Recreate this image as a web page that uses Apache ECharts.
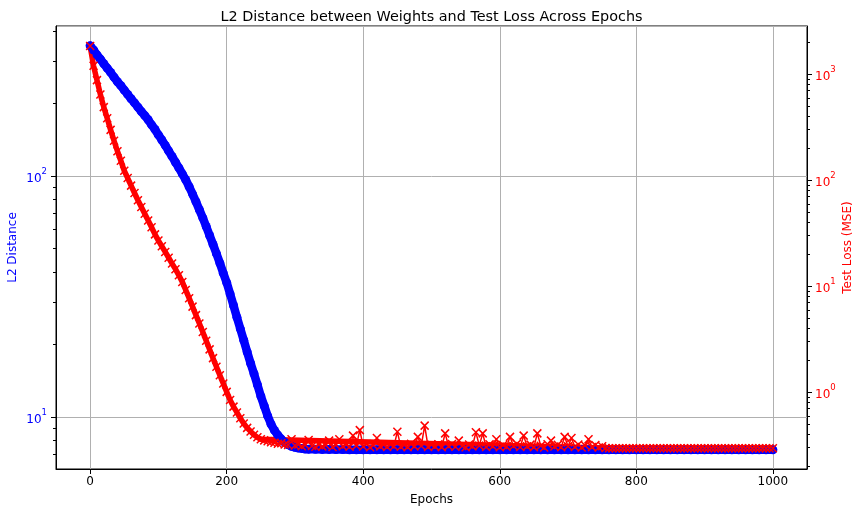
<!DOCTYPE html>
<html>
<head>
<meta charset="utf-8">
<title>L2 Distance vs Test Loss</title>
<script src="https://cdn.jsdelivr.net/npm/echarts@6/dist/echarts.min.js"></script>
<style>
  html, body { margin: 0; padding: 0; background: #fff; }
  #main { width: 863px; height: 515px; }
</style>
</head>
<body>
<div id="main"></div>
<script>
// L2 distance, read every 5 epochs for 0..320, then every 10 epochs for 330..1000
const l2Early = [
  347, 333, 318, 305, 292, 280, 269, 257, 246, 237,
  227, 218, 209, 201, 193, 185, 178, 171, 163, 156,
  148, 141, 134, 127, 120.5, 114, 108, 102, 96.4, 90.2,
  84.1, 78.2, 72.4, 67.0, 61.7, 56.6, 52.0, 47.6, 43.5, 39.5,
  36.1, 32.4, 29.0, 25.9, 23.2, 20.8, 18.6, 16.7, 15.1, 13.6,
  12.2, 11.1, 10.1, 9.33, 8.79, 8.39, 8.09, 7.85, 7.67, 7.55,
  7.48, 7.43, 7.40, 7.36, 7.35
];
const l2Late = [
  7.34, 7.33, 7.33, 7.32, 7.32, 7.31, 7.31, 7.31, 7.30, 7.30,
  7.30, 7.30, 7.30, 7.30, 7.30, 7.30, 7.30, 7.30, 7.30, 7.30,
  7.30, 7.30, 7.30, 7.30, 7.30, 7.30, 7.30, 7.30, 7.30, 7.30,
  7.30, 7.30, 7.30, 7.30, 7.30, 7.30, 7.30, 7.30, 7.30, 7.30,
  7.30, 7.30, 7.30, 7.30, 7.30, 7.30, 7.30, 7.30, 7.30, 7.30,
  7.30, 7.30, 7.30, 7.30, 7.30, 7.30, 7.30, 7.30, 7.30, 7.30,
  7.30, 7.30, 7.30, 7.30, 7.30, 7.30, 7.30, 7.30
];

// test loss, every 5 epochs: 0..250, noisy 255..750, then 755..1000
const lossEarly = [
  1850, 1202, 881, 646, 490, 385, 299, 236, 188, 153,
  123, 105, 89.1, 75.9, 64.9, 56.0, 48.3, 41.7, 36.0, 30.9,
  27.0, 23.9, 21.1, 18.6, 16.4, 14.5, 12.7, 11.0, 9.23, 7.73,
  6.43, 5.35, 4.45, 3.70, 3.07, 2.54, 2.10, 1.74, 1.45, 1.21,
  1.01, 0.845, 0.733, 0.646, 0.569, 0.507, 0.462, 0.427, 0.398, 0.376,
  0.36
];
const lossNoisy = [
  0.352, 0.345, 0.338, 0.334, 0.327, 0.331, 0.322, 0.318, 0.36, 0.315,
  0.322, 0.31, 0.318, 0.355, 0.312, 0.306, 0.32, 0.309, 0.316, 0.35,
  0.305, 0.318, 0.36, 0.31, 0.322, 0.306, 0.39, 0.314, 0.44, 0.308,
  0.325, 0.303, 0.316, 0.37, 0.309, 0.32, 0.305, 0.322, 0.31, 0.425,
  0.306, 0.318, 0.304, 0.326, 0.309, 0.38, 0.312, 0.485, 0.305, 0.32,
  0.308, 0.323, 0.304, 0.41, 0.31, 0.325, 0.306, 0.35, 0.312, 0.303,
  0.322, 0.309, 0.42, 0.314, 0.41, 0.305, 0.324, 0.31, 0.36, 0.303,
  0.318, 0.307, 0.38, 0.311, 0.326, 0.305, 0.39, 0.309, 0.321, 0.304,
  0.41, 0.313, 0.302, 0.324, 0.35, 0.308, 0.319, 0.303, 0.38, 0.31,
  0.37, 0.305, 0.322, 0.301, 0.315, 0.36, 0.304, 0.318, 0.302, 0.31
];
const lossLate = [
  0.298, 0.297, 0.297, 0.297, 0.297, 0.297, 0.297, 0.297, 0.297, 0.297,
  0.297, 0.297, 0.297, 0.297, 0.297, 0.297, 0.297, 0.297, 0.297, 0.297,
  0.297, 0.297, 0.297, 0.297, 0.297, 0.297, 0.297, 0.297, 0.297, 0.297,
  0.297, 0.297, 0.297, 0.297, 0.297, 0.297, 0.297, 0.297, 0.297, 0.297,
  0.297, 0.297, 0.297, 0.297, 0.297, 0.297, 0.297, 0.297, 0.297, 0.297
];

const xTicks = [0, 200, 400, 600, 800, 1000];
const l2Minor = [7, 8, 9, 20, 30, 40, 50, 60, 70, 80, 90, 200, 300, 400];
const lossMinor = [
  0.2, 0.3, 0.4, 0.5, 0.6, 0.7, 0.8, 0.9,
  2, 3, 4, 5, 6, 7, 8, 9,
  20, 30, 40, 50, 60, 70, 80, 90,
  200, 300, 400, 500, 600, 700, 800, 900, 2000
];

// pair a segment with its epochs (start + i * step)
function seg(values, start, step) {
  return values.map((v, i) => [start + i * step, v]);
}
const l2Data = seg(l2Early, 0, 5).concat(seg(l2Late, 330, 10));
const lossData = seg(lossEarly, 0, 5)
  .concat(seg(lossNoisy, 255, 5))
  .concat(seg(lossLate, 755, 5));
// smooth stretches only: the thick band that the dense x markers make
const lossBand = seg(lossEarly, 0, 5).concat(seg(lossLate, 755, 5));

const FONT = 'DejaVu Sans';

function powLabel(v) {
  const e = Math.round(Math.log10(v));
  if (Math.abs(Math.log10(v) - e) > 1e-6) return '';
  return '{b|10}{s|' + e + '}';
}
function powRich(color) {
  return {
    b: { fontSize: 12, color: color, fontFamily: FONT, lineHeight: 18, verticalAlign: 'bottom' },
    s: { fontSize: 8.5, color: color, fontFamily: FONT, lineHeight: 18, verticalAlign: 'top' }
  };
}

const minorAxis = (lo, hi, pos, ticks) => ({
  type: 'log', min: lo, max: hi, position: pos, offset: 0,
  axisLine: { show: false, onZero: false },
  axisTick: { show: true, customValues: ticks, length: 3, lineStyle: { color: '#000' } },
  axisLabel: { show: false },
  splitLine: { show: false }
});

const chart = echarts.init(document.getElementById('main'), null, { renderer: 'canvas' });

chart.setOption({
  animation: false,
  title: {
    text: 'L2 Distance between Weights and Test Loss Across Epochs',
    left: 'center',
    top: 5,
    textStyle: { fontFamily: FONT, fontSize: 14.4, fontWeight: 'normal', color: '#000' }
  },
  grid: {
    left: 56, right: 56, top: 26, bottom: 46,
    containLabel: false,
    outerBoundsMode: 'none',
    show: true, borderColor: '#000', borderWidth: 1, backgroundColor: '#fff'
  },
  xAxis: {
    type: 'value',
    min: -50,
    max: 1050,
    name: 'Epochs',
    nameLocation: 'middle',
    nameGap: 25,
    nameMoveOverlap: false,
    nameTextStyle: { fontFamily: FONT, fontSize: 12, color: '#000' },
    axisLine: { onZero: false, lineStyle: { color: '#000', width: 1 } },
    axisTick: { customValues: xTicks, length: 5, lineStyle: { color: '#000' } },
    axisLabel: {
      customValues: xTicks,
      margin: 7,
      formatter: (v) => String(v),
      fontFamily: FONT, fontSize: 12, color: '#000'
    },
    splitLine: { show: true, lineStyle: { color: '#b0b0b0', width: 1 } }
  },
  yAxis: [
    {
      type: 'log',
      min: 6.08,
      max: 419,
      position: 'left',
      name: 'L2 Distance',
      nameLocation: 'middle',
      nameGap: 37,
      nameMoveOverlap: false,
      nameTextStyle: { fontFamily: FONT, fontSize: 12, color: '#0000ff' },
      axisLine: { show: true, onZero: false, lineStyle: { color: '#000', width: 1 } },
      axisTick: { show: true, length: 5, lineStyle: { color: '#000' } },
      axisLabel: {
        showMinLabel: false, showMaxLabel: false,
        margin: 9, formatter: powLabel, rich: powRich('#0000ff')
      },
      splitLine: { show: true, lineStyle: { color: '#b0b0b0', width: 1 } }
    },
    {
      type: 'log',
      min: 0.189,
      max: 2856,
      position: 'right',
      name: 'Test Loss (MSE)',
      nameLocation: 'middle',
      nameGap: 35,
      nameRotate: 90,
      nameMoveOverlap: false,
      nameTextStyle: { fontFamily: FONT, fontSize: 12, color: '#ff0000' },
      axisLine: { show: true, onZero: false, lineStyle: { color: '#000', width: 1 } },
      axisTick: { show: true, length: 5, lineStyle: { color: '#000' } },
      axisLabel: {
        showMinLabel: false, showMaxLabel: false,
        margin: 8, formatter: powLabel, rich: powRich('#ff0000')
      },
      splitLine: { show: false }
    },
    minorAxis(6.08, 419, 'left', l2Minor),
    minorAxis(0.189, 2856, 'right', lossMinor)
  ],
  series: [
    {
      name: 'L2 Distance',
      type: 'line',
      yAxisIndex: 0,
      data: l2Data,
      symbol: 'circle',
      symbolSize: 9,
      lineStyle: { color: '#0000ff', width: 8.5, cap: 'round', join: 'round' },
      itemStyle: { color: '#0000ff' }
    },
    {
      name: 'Test Loss band',
      type: 'line',
      yAxisIndex: 1,
      data: lossBand,
      showSymbol: false,
      lineStyle: { color: '#ff0000', width: 5.5, cap: 'round', join: 'round' },
      tooltip: { show: false }
    },
    {
      name: 'Test Loss',
      type: 'line',
      yAxisIndex: 1,
      data: lossData,
      symbol: 'path://M0,0L10,10M10,0L0,10',
      symbolSize: 8,
      lineStyle: { color: '#ff0000', width: 1.5 },
      itemStyle: { color: 'rgba(0,0,0,0)', borderColor: '#ff0000', borderWidth: 1.5 }
    }
  ]
});
</script>
</body>
</html>
